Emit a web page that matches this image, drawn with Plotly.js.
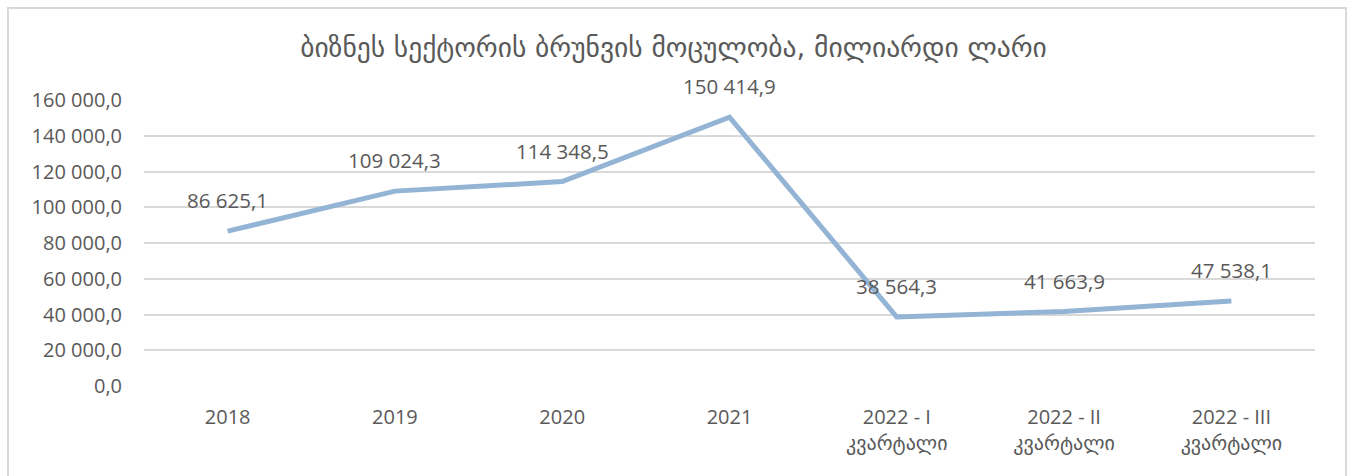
<!DOCTYPE html>
<html>
<head>
<meta charset="utf-8">
<script src="https://cdn.plot.ly/plotly-3.0.1.min.js"></script>
<style>
html,body{margin:0;padding:0;background:#fff;overflow:hidden;}
#chart{position:absolute;left:0;top:0;width:1347px;height:476px;}
#frame{position:absolute;left:7px;top:7px;width:1336px;height:500px;border:2px solid #d9d9d9;pointer-events:none;}
</style>
</head>
<body>
<div id="chart"></div>
<div id="frame"></div>
<script>
var categories = ["2018", "2019", "2020", "2021", "2022 - I<br>კვარტალი", "2022 - II<br>კვარტალი", "2022 - III<br>კვარტალი"];
var values = [86625.1, 109024.3, 114348.5, 150414.9, 38564.3, 41663.9, 47538.1];
var yTickVals = [0, 20000, 40000, 60000, 80000, 100000, 120000, 140000, 160000];
var yTickText = ["0,0", "20 000,0", "40 000,0", "60 000,0", "80 000,0", "100 000,0", "120 000,0", "140 000,0", "160 000,0"];
var titleText = "ბიზნეს სექტორის ბრუნვის მოცულობა, მილიარდი ლარი";

function fmt(v) {
  var parts = v.toFixed(1).split(".");
  var intPart = parts[0].replace(/\B(?=(\d{3})+(?!\d))/g, " ");
  return intPart + "," + parts[1];
}

var font = "Open Sans, DejaVu Sans, sans-serif";
var textColor = "#595959";

var trace = {
  x: categories,
  y: values,
  type: "scatter",
  mode: "lines",
  line: {color: "#93B4D4", width: 5},
  hoverinfo: "skip"
};

var annotations = categories.map(function (c, i) {
  return {
    x: i, y: values[i], xref: "x", yref: "y",
    text: fmt(values[i]), showarrow: false,
    yanchor: "bottom", xanchor: "center", yshift: 15,
    font: {family: font, size: 20.5, color: textColor}
  };
});

var layout = {
  width: 1347, height: 476,
  margin: {l: 144, r: 32, t: 100, b: 90},
  paper_bgcolor: "#ffffff", plot_bgcolor: "#ffffff",
  showlegend: false,
  title: {text: titleText, x: 0.5, xanchor: "center", y: 0.9, yanchor: "middle",
          font: {family: "DejaVu Sans, sans-serif", size: 27.5, color: textColor}},
  xaxis: {
    type: "category", range: [-0.5, 6.5], showgrid: false, zeroline: false,
    showline: false, ticks: "", ticklabelstandoff: 17,
    tickfont: {family: font, size: 20, color: textColor}, fixedrange: true
  },
  yaxis: {
    range: [0, 160000], tickvals: yTickVals, ticktext: yTickText,
    showgrid: true, gridcolor: "#d9d9d9", gridwidth: 2, zeroline: false,
    showline: false, ticks: "", ticklabelstandoff: 21,
    tickfont: {family: font, size: 20, color: textColor}, fixedrange: true
  },
  annotations: annotations
};

Plotly.newPlot("chart", [trace], layout, {displayModeBar: false, staticPlot: true});
</script>
</body>
</html>
